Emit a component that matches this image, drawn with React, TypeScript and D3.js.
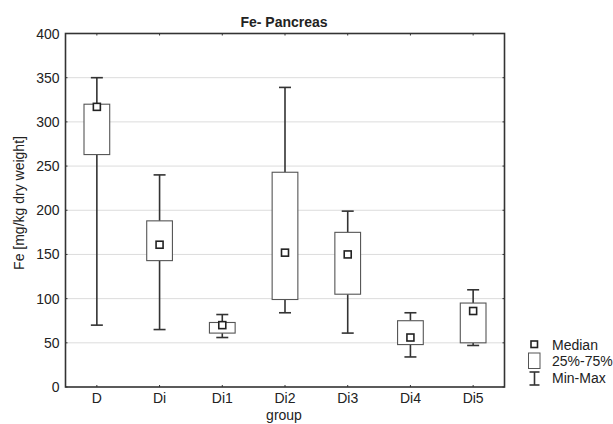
import React from "react";
import * as d3 from "d3";

const groups = ["D", "Di", "Di1", "Di2", "Di3", "Di4", "Di5"];
const minVals = [70, 65, 56, 84, 61, 34, 47];
const q1Vals = [263, 143, 61, 99, 105, 48, 50];
const medianVals = [317, 161, 70, 152, 150, 56, 86];
const q3Vals = [320, 188, 73, 243, 175, 75, 95];
const maxVals = [350, 240, 82, 339, 199, 84, 110];
const yTicks = [0, 50, 100, 150, 200, 250, 300, 350, 400];

const W = 613, H = 424;
const L = 65.5, R = 504.5, T = 33.5, B = 387;
const FONT = "'Liberation Sans', Arial, sans-serif";

export default function App() {
  const x = d3.scaleBand<string>().domain(groups).range([L, R]).padding(0);
  const y = d3.scaleLinear().domain([0, 400]).range([B, T]);
  const bw = x.bandwidth();
  const boxW = bw * 0.41;
  const capW = 12;
  const ms = 7;
  const axisCol = "#333";
  return (
    <svg width={W} height={H} style={{ position: "absolute", left: 0, top: 0 }} fontFamily={FONT}>
      <rect x={0} y={0} width={W} height={H} fill="#fff" />
      {yTicks.map((t) => (
        <g key={t}>
          {t > 0 && t < 400 && (
            <line x1={L} x2={R} y1={y(t)} y2={y(t)} stroke="#dcdcdc" strokeWidth={1} />
          )}
          <line x1={L} x2={L + 2} y1={y(t)} y2={y(t)} stroke={axisCol} />
          <line x1={R - 2} x2={R} y1={y(t)} y2={y(t)} stroke={axisCol} />
          <text x={L - 6} y={y(t) + 5} textAnchor="end" fontSize={14} fill="#222">
            {t}
          </text>
        </g>
      ))}
      {groups.map((g) => {
        const cx = (x(g) as number) + bw / 2;
        return (
          <g key={g}>
            <line x1={cx} x2={cx} y1={B} y2={B - 2} stroke={axisCol} />
            <line x1={cx} x2={cx} y1={T} y2={T + 2} stroke={axisCol} />
            <text x={cx} y={403} textAnchor="middle" fontSize={14} fill="#222">
              {g}
            </text>
          </g>
        );
      })}
      {groups.map((g, i) => {
        const cx = (x(g) as number) + bw / 2;
        return (
          <g key={"b" + g}>
            <line x1={cx} x2={cx} y1={y(maxVals[i])} y2={y(q3Vals[i])} stroke="#333" strokeWidth={1.6} />
            <line x1={cx} x2={cx} y1={y(q1Vals[i])} y2={y(minVals[i])} stroke="#333" strokeWidth={1.6} />
            <line x1={cx - capW / 2} x2={cx + capW / 2} y1={y(maxVals[i])} y2={y(maxVals[i])} stroke="#333" strokeWidth={1.6} />
            <line x1={cx - capW / 2} x2={cx + capW / 2} y1={y(minVals[i])} y2={y(minVals[i])} stroke="#333" strokeWidth={1.6} />
            <rect
              x={cx - boxW / 2}
              y={y(q3Vals[i])}
              width={boxW}
              height={y(q1Vals[i]) - y(q3Vals[i])}
              fill="#fff"
              stroke="#555"
              strokeWidth={1.1}
            />
            <rect
              x={cx - ms / 2}
              y={y(medianVals[i]) - ms / 2}
              width={ms}
              height={ms}
              fill="#fff"
              stroke="#222"
              strokeWidth={1.6}
            />
          </g>
        );
      })}
      <rect x={L} y={T} width={R - L} height={B - T} fill="none" stroke={axisCol} strokeWidth={1.6} />
      <text x={284} y={27} textAnchor="middle" fontSize={14} fontWeight="bold" fill="#222">
        Fe- Pancreas
      </text>
      <text
        transform={`translate(24,203) rotate(-90)`}
        textAnchor="middle"
        fontSize={14}
        fill="#222"
      >
        Fe [mg/kg dry weight]
      </text>
      <text x={284} y={420} textAnchor="middle" fontSize={14} fill="#222">
        group
      </text>
      <g>
        <rect x={531} y={341} width={6.5} height={6.5} fill="#fff" stroke="#222" strokeWidth={1.6} />
        <text x={552} y={350} fontSize={14} fill="#222">Median</text>
        <rect x={528.5} y={353} width={11.5} height={15.5} fill="#fff" stroke="#555" strokeWidth={1} />
        <text x={552} y={366} fontSize={14} fill="#222">25%-75%</text>
        <line x1={534.5} x2={534.5} y1={372} y2={385} stroke="#333" strokeWidth={1.6} />
        <line x1={529.5} x2={539.5} y1={372} y2={372} stroke="#333" strokeWidth={1.6} />
        <line x1={529.5} x2={539.5} y1={385} y2={385} stroke="#333" strokeWidth={1.6} />
        <text x={552} y={383} fontSize={14} fill="#222">Min-Max</text>
      </g>
    </svg>
  );
}
